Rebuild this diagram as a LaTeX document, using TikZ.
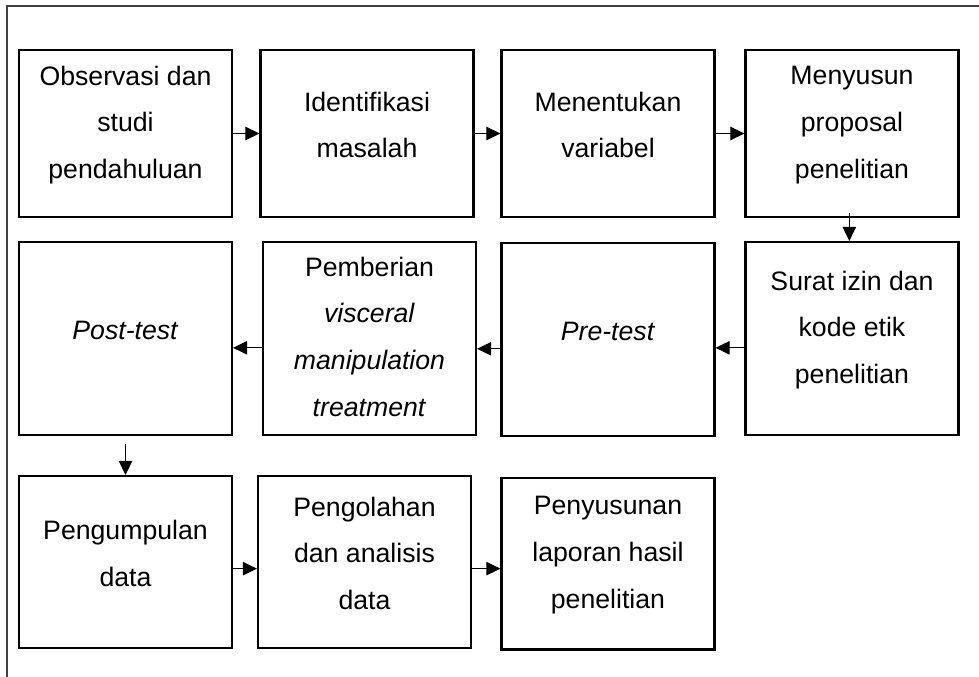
\documentclass[tikz,border=0pt]{standalone}
\usepackage{fontspec}
\setmainfont{Liberation Sans}
\usetikzlibrary{arrows.meta}

\begin{document}
\begin{tikzpicture}[x=0.75pt,y=-0.75pt,
  box/.style={draw, line width=1.8pt, minimum width=159.5pt, inner sep=0pt},
  txt/.style={align=center, font=\fontsize{20}{35}\selectfont, inner sep=0pt},
  arr/.style={-{Triangle[length=10.5pt,width=10pt]}, line width=0.75pt}]
\useasboundingbox (0,0) rectangle (979,677);
\clip (0,0) rectangle (979,677);
% Frame
\draw[line width=0.8pt, black!75] (7,6) rectangle (990,690);

% First row
\node[box, minimum height=125pt] (obs) at (125.5,133.5) {};
\node[txt] (obsT) at ([yshift=6.4pt]obs) {Observasi dan\\studi\\pendahuluan};
\node[box, minimum height=125pt] (ide) at (367,133.5) {};
\node[txt] (ideT) at ([yshift=6.4pt]ide) {Identifikasi\\masalah};
\node[box, minimum height=125pt] (var) at (608,133.5) {};
\node[txt] (varT) at ([yshift=6.4pt]var) {Menentukan\\variabel};
\node[box, minimum height=125pt] (prop) at (852,133.5) {};
\node[txt] (propT) at ([yshift=6.4pt]prop) {Menyusun\\proposal\\penelitian};

% Second row
\node[box, minimum height=144.5pt] (izin) at (852,338.5) {};
\node[txt] (izinT) at ([yshift=6.4pt]izin) {Surat izin dan\\kode etik\\penelitian};
\node[box, minimum height=145pt] (pre) at (608,339.5) {};
\node[txt] (preT) at ([yshift=6.4pt]pre) {\textit{Pre-test}};
\node[box, minimum height=144.5pt] (vm) at (369.5,338.5) {};
\node[txt] (vmT) at ([yshift=1.5pt]vm) {Pemberian\\\textit{visceral}\\\textit{manipulation}\\\textit{treatment}};
\node[box, minimum height=144.5pt] (post) at (125.5,338.5) {};
\node[txt] (postT) at ([yshift=6.4pt]post) {\textit{Post-test}};

% Third row
\node[box, minimum height=128.7pt] (kumpul) at (125.5,562) {};
\node[txt] (kumpulT) at ([yshift=6.4pt]kumpul) {Pengumpulan\\data};
\node[box, minimum height=128.7pt] (olah) at (364.5,562) {};
\node[txt] (olahT) at ([yshift=6.4pt]olah) {Pengolahan\\dan analisis\\data};
\node[box, minimum height=128.7pt] (lapor) at (608,563.5) {};
\node[txt] (laporT) at ([yshift=6.4pt]lapor) {Penyusunan\\laporan hasil\\penelitian};

% Arrows
\draw[arr] (obs.east) -- (ide.west);
\draw[arr] (ide.east) -- (var.west);
\draw[arr] (var.east) -- (prop.west);
\draw[arr] ([xshift=-2pt,yshift=4pt]prop.south) -- ([xshift=-2pt]izin.north);
\draw[arr] ([yshift=-7pt]izin.west) -- ([yshift=-7pt]izin.west -| pre.east);
\draw[arr] ([yshift=-7pt]pre.west) -- ([yshift=-7pt]pre.west -| vm.east);
\draw[arr] ([yshift=-7pt]vm.west) -- ([yshift=-7pt]vm.west -| post.east);
\draw[arr] ([yshift=-6pt]post.south) -- (kumpul.north);
\draw[arr] ([yshift=-5pt]kumpul.east) -- ([yshift=-5pt]kumpul.east -| olah.west);
\draw[arr] ([yshift=-5pt]olah.east) -- ([yshift=-5pt]olah.east -| lapor.west);
\end{tikzpicture}
\end{document}
